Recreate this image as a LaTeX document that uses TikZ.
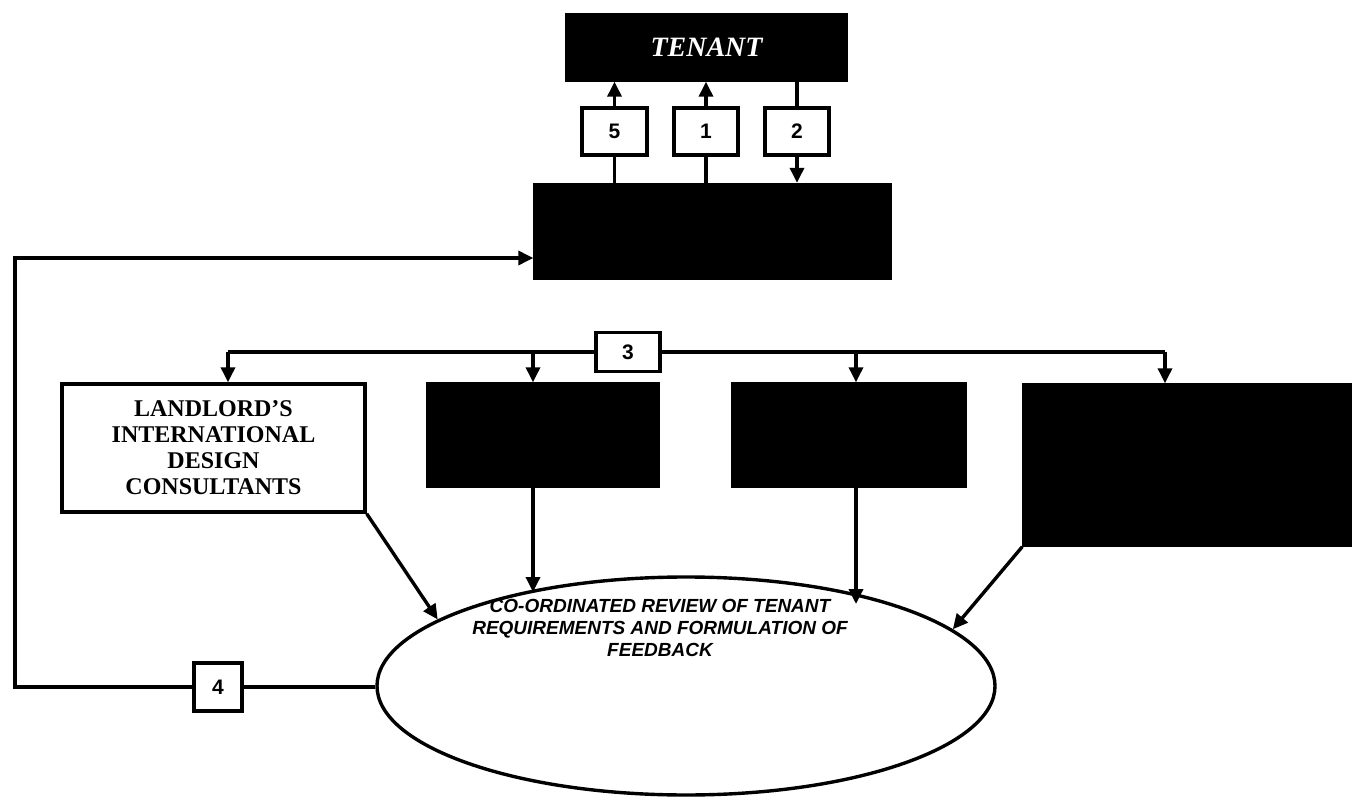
\documentclass[tikz,border=0pt]{standalone}
\usepackage{fontspec}
\setmainfont{Liberation Serif}
\setsansfont{Liberation Sans}
\usetikzlibrary{arrows.meta,shapes.geometric}
\begin{document}
\begin{tikzpicture}[x=1pt,y=-1pt,
  line width=3.4pt,
  arr/.style={-{Triangle[length=15pt,width=14pt]}},
  blk/.style={draw=black,fill=black,rectangle,inner sep=0pt},
  numbox/.style={draw=black,fill=white,rectangle,inner sep=0pt,font=\sffamily\bfseries\fontsize{21}{24}\selectfont},
  landbox/.style={draw=black,fill=white,rectangle,inner sep=0pt,align=center,font=\rmfamily\bfseries\fontsize{24}{26}\selectfont},
  ellbox/.style={draw=black,fill=white,ellipse,inner sep=0pt}
]
\useasboundingbox (0,0) rectangle (1353,802);
\fill[white] (0,0) rectangle (1353,802);

% top
\node[blk,minimum width=279pt,minimum height=65pt,text=white,font=\rmfamily\bfseries\itshape\fontsize{28}{30}\selectfont] (tenant) at (706.5,47.5) {TENANT};
\node[numbox,minimum width=65pt,minimum height=47pt] (b5) at (614.5,131.5) {5};
\node[numbox,minimum width=64pt,minimum height=47pt] (b1) at (706,131.5) {1};
\node[numbox,minimum width=64pt,minimum height=47pt] (b2) at (797,131.5) {2};
\node[blk,minimum width=355pt,minimum height=94pt] (main) at (712.5,231.5) {};

\draw (main.north -| b5) -- (b5.south);
\draw[arr] (b5.north) -- (b5.north |- tenant.south);
\draw (main.north -| b1) -- (b1.south);
\draw[arr] (b1.north) -- (b1.north |- tenant.south);
\draw (tenant.south -| b2) -- (b2.north);
\draw[arr] (b2.south) -- (b2.south |- main.north);

% row of boxes
\node[numbox,minimum width=64pt,minimum height=39pt] (b3) at (628,352) {3};
\node[landbox,minimum width=303pt,minimum height=128pt] (land) at (213.5,448) {LANDLORD'S\\INTERNATIONAL\\DESIGN\\CONSULTANTS};
\node[blk,minimum width=230pt,minimum height=102pt] (bB) at (543,435) {};
\node[blk,minimum width=232pt,minimum height=102pt] (bC) at (849,435) {};
\node[blk,minimum width=326pt,minimum height=160pt] (bD) at (1187,465) {};

\coordinate (dA) at (228,352);
\coordinate (dB) at (533,352);
\coordinate (dC) at (856,352);
\coordinate (dD) at (1165,352);
\draw (b3.west) -- (dA);
\draw (b3.east) -- (dD);
\draw[arr] (dA) -- (dA |- land.north);
\draw[arr] (dB) -- (dB |- bB.north);
\draw[arr] (dC) -- (dC |- bC.north);
\draw[arr] (dD) -- (dD |- bD.north);

% ellipse
\node[ellbox,minimum width=618pt,minimum height=218pt] (ell) at (686,686) {};
\node[font=\sffamily\bfseries\itshape\fontsize{19}{22}\selectfont,align=center,inner sep=0pt] (etext) at (660,628) {CO-ORDINATED REVIEW OF TENANT\\REQUIREMENTS AND FORMULATION OF\\FEEDBACK};

\coordinate (eB) at (533,592);
\coordinate (eC) at (856,604);
\draw[arr] (land.south east) -- (ell.165.6);
\draw[arr] (bB.south -| dB) -- (eB);
\draw[arr] (bC.south -| dC) -- (eC);
\draw[arr] (bD.south west) -- (ell.12.2);

% feedback loop
\node[numbox,minimum width=48pt,minimum height=48pt] (b4) at (218,687) {4};
\coordinate (lb) at (15,687);
\coordinate (lt) at (15,258);
\draw (ell.west |- b4) -- (b4.east);
\draw[arr] (b4.west) -- (lb) -- (lt) -- (lt -| main.west);
\end{tikzpicture}
\end{document}
